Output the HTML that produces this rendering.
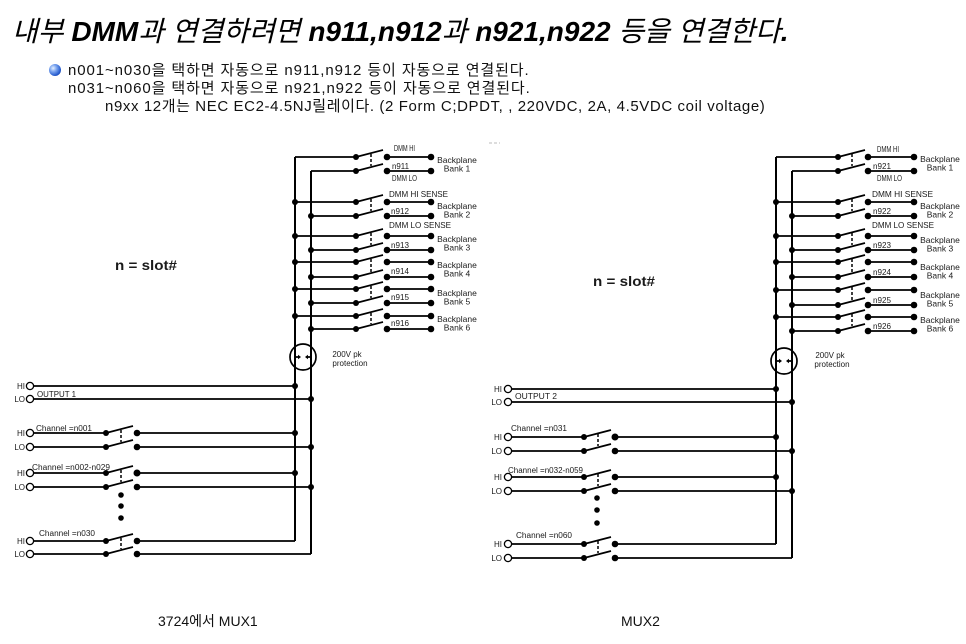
<!DOCTYPE html>
<html><head><meta charset="utf-8">
<style>
html,body{margin:0;padding:0;background:#fff;}
body{width:966px;height:644px;position:relative;overflow:hidden;font-family:"Liberation Sans","Noto Sans CJK KR",sans-serif;color:#000;}
#title{position:absolute;left:12px;top:16px;font-size:28px;line-height:32px;white-space:nowrap;font-style:italic;}
#title b{font-weight:bold;}
#title .k{font-weight:normal;}
.ln{position:absolute;font-size:15px;line-height:18px;white-space:nowrap;letter-spacing:0.6px;color:#111;}
#bullet{position:absolute;left:49px;top:64px;width:12px;height:12px;border-radius:50%;background:radial-gradient(circle at 35% 35%,#e6f0ff 0%,#7fa8f0 30%,#2a5fd0 65%,#0b2d8a 100%);}
.cap{position:absolute;font-size:14px;line-height:16px;white-space:nowrap;color:#111;}
svg{position:absolute;left:0;top:0;}
svg text{font-family:"Liberation Sans",sans-serif;fill:#1a1a1a;}
</style></head>
<body>
<div id="title"><span class="k">내부 </span><b>DMM</b><span class="k">과 연결하려면 </span><b>n911,n912</b><span class="k">과 </span><b>n921,n922</b><span class="k"> 등을 연결한다</span><b>.</b></div>
<div id="bullet"></div>
<div class="ln" style="left:68px;top:62px;letter-spacing:0.9px;">n001~n030을 택하면 자동으로 n911,n912 등이 자동으로 연결된다.</div>
<div class="ln" style="left:68px;top:80px;letter-spacing:0.9px;">n031~n060을 택하면 자동으로 n921,n922 등이 자동으로 연결된다.</div>
<div class="ln" style="left:105px;top:98px;letter-spacing:0.6px;">n9xx 12개는 NEC EC2-4.5NJ릴레이다. (2 Form C;DPDT, , 220VDC, 2A, 4.5VDC coil voltage)</div>

<svg width="966" height="644" viewBox="0 0 966 644">
<line x1="489" y1="143" x2="500" y2="143" stroke="#bbb" stroke-width="1" stroke-dasharray="3,2"/>

<g stroke="#000" fill="none" stroke-linecap="butt">
<path d="M295 157V541 M311 171V554" stroke-width="2"/>
<path stroke-width="1.7" d="
M295 157H356 M311 171H356 M387 157H431 M387 171H431 M356 157L383 150 M356 171L383 164
M295 202H356 M311 216H356 M387 202H431 M387 216H431 M356 202L383 195 M356 216L383 209
M295 236H356 M311 250H356 M387 236H431 M387 250H431 M356 236L383 229 M356 250L383 243
M295 262H356 M311 277H356 M387 262H431 M387 277H431 M356 262L383 255 M356 277L383 270
M295 289H356 M311 303H356 M387 289H431 M387 303H431 M356 289L383 282 M356 303L383 296
M295 316H356 M311 329H356 M387 316H431 M387 329H431 M356 316L383 309 M356 329L383 322
M34 386H295 M34 399H311
M34 433H106 M34 447H106 M137 433H295 M137 447H311 M106 433L133 426 M106 447L133 440
M34 473H106 M34 487H106 M137 473H295 M137 487H311 M106 473L133 466 M106 487L133 480
M34 541H106 M34 554H106 M137 541H295 M137 554H311 M106 541L133 534 M106 554L133 547
M295 357H299 M311 357H307
"/>
<path stroke-width="1.5" stroke-dasharray="3,2" d="M371 154V166 M371 199V211 M371 233V245 M371 259V272 M371 286V298 M371 313V324 M121 430V442 M121 470V482 M121 538V549"/>
<circle cx="303" cy="357" r="13" stroke-width="1.7"/>

<path d="M776 157V544 M792 171V558" stroke-width="2"/>
<path stroke-width="1.7" d="
M776 157H838 M792 171H838 M868 157H914 M868 171H914 M838 157L865 150 M838 171L865 164
M776 202H838 M792 216H838 M868 202H914 M868 216H914 M838 202L865 195 M838 216L865 209
M776 236H838 M792 250H838 M868 236H914 M868 250H914 M838 236L865 229 M838 250L865 243
M776 262H838 M792 277H838 M868 262H914 M868 277H914 M838 262L865 255 M838 277L865 270
M776 290H838 M792 305H838 M868 290H914 M868 305H914 M838 290L865 283 M838 305L865 298
M776 317H838 M792 331H838 M868 317H914 M868 331H914 M838 317L865 310 M838 331L865 324
M512 389H776 M512 402H792
M512 437H584 M512 451H584 M615 437H776 M615 451H792 M584 437L611 430 M584 451L611 444
M512 477H584 M512 491H584 M615 477H776 M615 491H792 M584 477L611 470 M584 491L611 484
M512 544H584 M512 558H584 M615 544H776 M615 558H792 M584 544L611 537 M584 558L611 551
M776 361H780 M792 361H788
"/>
<path stroke-width="1.5" stroke-dasharray="3,2" d="M852 154V166 M852 199V211 M852 233V245 M852 259V272 M852 287V300 M852 314V326 M598 434V446 M598 474V486 M598 541V553"/>
<circle cx="784" cy="361" r="13" stroke-width="1.7"/>

<g stroke-width="1.3" fill="#fff">
<circle cx="30" cy="386" r="3.6"/><circle cx="30" cy="399" r="3.6"/>
<circle cx="30" cy="433" r="3.6"/><circle cx="30" cy="447" r="3.6"/>
<circle cx="30" cy="473" r="3.6"/><circle cx="30" cy="487" r="3.6"/>
<circle cx="30" cy="541" r="3.6"/><circle cx="30" cy="554" r="3.6"/>
<circle cx="508" cy="389" r="3.6"/><circle cx="508" cy="402" r="3.6"/>
<circle cx="508" cy="437" r="3.6"/><circle cx="508" cy="451" r="3.6"/>
<circle cx="508" cy="477" r="3.6"/><circle cx="508" cy="491" r="3.6"/>
<circle cx="508" cy="544" r="3.6"/><circle cx="508" cy="558" r="3.6"/>
</g>
</g>

<g fill="#000">
<polygon points="301,357 298,354.8 298,359.2"/><polygon points="305,357 308,354.8 308,359.2"/>
<polygon points="782,361 779,358.8 779,363.2"/><polygon points="786,361 789,358.8 789,363.2"/>
</g>

<g fill="#000">
<circle cx="295" cy="202" r="3"/><circle cx="295" cy="236" r="3"/><circle cx="295" cy="262" r="3"/><circle cx="295" cy="289" r="3"/><circle cx="295" cy="316" r="3"/><circle cx="295" cy="386" r="3"/><circle cx="295" cy="433" r="3"/><circle cx="295" cy="473" r="3"/>
<circle cx="311" cy="216" r="3"/><circle cx="311" cy="250" r="3"/><circle cx="311" cy="277" r="3"/><circle cx="311" cy="303" r="3"/><circle cx="311" cy="329" r="3"/><circle cx="311" cy="399" r="3"/><circle cx="311" cy="447" r="3"/><circle cx="311" cy="487" r="3"/>
<circle cx="356" cy="157" r="3"/><circle cx="387" cy="157" r="3.3"/><circle cx="431" cy="157" r="3.3"/>
<circle cx="356" cy="171" r="3"/><circle cx="387" cy="171" r="3.3"/><circle cx="431" cy="171" r="3.3"/>
<circle cx="356" cy="202" r="3"/><circle cx="387" cy="202" r="3.3"/><circle cx="431" cy="202" r="3.3"/>
<circle cx="356" cy="216" r="3"/><circle cx="387" cy="216" r="3.3"/><circle cx="431" cy="216" r="3.3"/>
<circle cx="356" cy="236" r="3"/><circle cx="387" cy="236" r="3.3"/><circle cx="431" cy="236" r="3.3"/>
<circle cx="356" cy="250" r="3"/><circle cx="387" cy="250" r="3.3"/><circle cx="431" cy="250" r="3.3"/>
<circle cx="356" cy="262" r="3"/><circle cx="387" cy="262" r="3.3"/><circle cx="431" cy="262" r="3.3"/>
<circle cx="356" cy="277" r="3"/><circle cx="387" cy="277" r="3.3"/><circle cx="431" cy="277" r="3.3"/>
<circle cx="356" cy="289" r="3"/><circle cx="387" cy="289" r="3.3"/><circle cx="431" cy="289" r="3.3"/>
<circle cx="356" cy="303" r="3"/><circle cx="387" cy="303" r="3.3"/><circle cx="431" cy="303" r="3.3"/>
<circle cx="356" cy="316" r="3"/><circle cx="387" cy="316" r="3.3"/><circle cx="431" cy="316" r="3.3"/>
<circle cx="356" cy="329" r="3"/><circle cx="387" cy="329" r="3.3"/><circle cx="431" cy="329" r="3.3"/>
<circle cx="106" cy="433" r="3"/><circle cx="137" cy="433" r="3.3"/>
<circle cx="106" cy="447" r="3"/><circle cx="137" cy="447" r="3.3"/>
<circle cx="106" cy="473" r="3"/><circle cx="137" cy="473" r="3.5"/>
<circle cx="106" cy="487" r="3"/><circle cx="137" cy="487" r="3.3"/>
<circle cx="106" cy="541" r="3"/><circle cx="137" cy="541" r="3.3"/>
<circle cx="106" cy="554" r="3"/><circle cx="137" cy="554" r="3.3"/>
<circle cx="121" cy="495" r="2.8"/><circle cx="121" cy="506" r="2.8"/><circle cx="121" cy="518" r="2.8"/>

<circle cx="776" cy="202" r="3"/><circle cx="776" cy="236" r="3"/><circle cx="776" cy="262" r="3"/><circle cx="776" cy="290" r="3"/><circle cx="776" cy="317" r="3"/><circle cx="776" cy="389" r="3"/><circle cx="776" cy="437" r="3"/><circle cx="776" cy="477" r="3"/>
<circle cx="792" cy="216" r="3"/><circle cx="792" cy="250" r="3"/><circle cx="792" cy="277" r="3"/><circle cx="792" cy="305" r="3"/><circle cx="792" cy="331" r="3"/><circle cx="792" cy="402" r="3"/><circle cx="792" cy="451" r="3"/><circle cx="792" cy="491" r="3"/>
<circle cx="838" cy="157" r="3"/><circle cx="868" cy="157" r="3.3"/><circle cx="914" cy="157" r="3.3"/>
<circle cx="838" cy="171" r="3"/><circle cx="868" cy="171" r="3.3"/><circle cx="914" cy="171" r="3.3"/>
<circle cx="838" cy="202" r="3"/><circle cx="868" cy="202" r="3.3"/><circle cx="914" cy="202" r="3.3"/>
<circle cx="838" cy="216" r="3"/><circle cx="868" cy="216" r="3.3"/><circle cx="914" cy="216" r="3.3"/>
<circle cx="838" cy="236" r="3"/><circle cx="868" cy="236" r="3.3"/><circle cx="914" cy="236" r="3.3"/>
<circle cx="838" cy="250" r="3"/><circle cx="868" cy="250" r="3.3"/><circle cx="914" cy="250" r="3.3"/>
<circle cx="838" cy="262" r="3"/><circle cx="868" cy="262" r="3.3"/><circle cx="914" cy="262" r="3.3"/>
<circle cx="838" cy="277" r="3"/><circle cx="868" cy="277" r="3.3"/><circle cx="914" cy="277" r="3.3"/>
<circle cx="838" cy="290" r="3"/><circle cx="868" cy="290" r="3.3"/><circle cx="914" cy="290" r="3.3"/>
<circle cx="838" cy="305" r="3"/><circle cx="868" cy="305" r="3.3"/><circle cx="914" cy="305" r="3.3"/>
<circle cx="838" cy="317" r="3"/><circle cx="868" cy="317" r="3.3"/><circle cx="914" cy="317" r="3.3"/>
<circle cx="838" cy="331" r="3"/><circle cx="868" cy="331" r="3.3"/><circle cx="914" cy="331" r="3.3"/>
<circle cx="584" cy="437" r="3"/><circle cx="615" cy="437" r="3.5"/>
<circle cx="584" cy="451" r="3"/><circle cx="615" cy="451" r="3.3"/>
<circle cx="584" cy="477" r="3"/><circle cx="615" cy="477" r="3.3"/>
<circle cx="584" cy="491" r="3"/><circle cx="615" cy="491" r="3.3"/>
<circle cx="584" cy="544" r="3"/><circle cx="615" cy="544" r="3.3"/>
<circle cx="584" cy="558" r="3"/><circle cx="615" cy="558" r="3.3"/>
<circle cx="597" cy="498" r="2.8"/><circle cx="597" cy="510" r="2.8"/><circle cx="597" cy="523" r="2.8"/>
</g>

<g font-size="8.5">
<text x="394" y="151" textLength="21" lengthAdjust="spacingAndGlyphs">DMM HI</text>
<text x="392" y="169" textLength="17" lengthAdjust="spacingAndGlyphs">n911</text>
<text x="392" y="181" textLength="25" lengthAdjust="spacingAndGlyphs">DMM LO</text>
<text x="389" y="197" textLength="59" lengthAdjust="spacingAndGlyphs">DMM HI SENSE</text>
<text x="391" y="214" textLength="18" lengthAdjust="spacingAndGlyphs">n912</text>
<text x="389" y="228" textLength="62" lengthAdjust="spacingAndGlyphs">DMM LO SENSE</text>
<text x="391" y="248" textLength="18" lengthAdjust="spacingAndGlyphs">n913</text>
<text x="391" y="274" textLength="18" lengthAdjust="spacingAndGlyphs">n914</text>
<text x="391" y="300" textLength="18" lengthAdjust="spacingAndGlyphs">n915</text>
<text x="391" y="326" textLength="18" lengthAdjust="spacingAndGlyphs">n916</text>
</g>
<g font-size="8.5" text-anchor="middle">
<text x="457" y="163">Backplane</text><text x="457" y="171.5">Bank 1</text>
<text x="457" y="209">Backplane</text><text x="457" y="217.5">Bank 2</text>
<text x="457" y="242">Backplane</text><text x="457" y="250.5">Bank 3</text>
<text x="457" y="268">Backplane</text><text x="457" y="276.5">Bank 4</text>
<text x="457" y="296">Backplane</text><text x="457" y="304.5">Bank 5</text>
<text x="457" y="322">Backplane</text><text x="457" y="330.5">Bank 6</text>
<text x="347" y="357" font-size="8">200V pk</text>
<text x="350" y="366" font-size="8">protection</text>
</g>
<g font-size="8">
<text x="37" y="397" textLength="39" lengthAdjust="spacingAndGlyphs">OUTPUT 1</text>
<text x="36" y="431" textLength="56" lengthAdjust="spacingAndGlyphs">Channel =n001</text>
<text x="32" y="470" textLength="78" lengthAdjust="spacingAndGlyphs">Channel =n002-n029</text>
<text x="39" y="536" textLength="56" lengthAdjust="spacingAndGlyphs">Channel =n030</text>
</g>
<g font-size="8" text-anchor="end">
<text x="25" y="389">HI</text><text x="25" y="402">LO</text>
<text x="25" y="436">HI</text><text x="25" y="450">LO</text>
<text x="25" y="476">HI</text><text x="25" y="490">LO</text>
<text x="25" y="544">HI</text><text x="25" y="557">LO</text>
<text x="502" y="392">HI</text><text x="502" y="405">LO</text>
<text x="502" y="440">HI</text><text x="502" y="454">LO</text>
<text x="502" y="480">HI</text><text x="502" y="494">LO</text>
<text x="502" y="547">HI</text><text x="502" y="561">LO</text>
</g>
<text x="115" y="270" font-size="14" font-weight="bold" textLength="62" lengthAdjust="spacingAndGlyphs">n = slot#</text>
<text x="593" y="286" font-size="14" font-weight="bold" textLength="62" lengthAdjust="spacingAndGlyphs">n = slot#</text>

<g font-size="8.5">
<text x="877" y="152" textLength="22" lengthAdjust="spacingAndGlyphs">DMM HI</text>
<text x="873" y="169" textLength="18" lengthAdjust="spacingAndGlyphs">n921</text>
<text x="877" y="181" textLength="25" lengthAdjust="spacingAndGlyphs">DMM LO</text>
<text x="872" y="197" textLength="61" lengthAdjust="spacingAndGlyphs">DMM HI SENSE</text>
<text x="873" y="214" textLength="18" lengthAdjust="spacingAndGlyphs">n922</text>
<text x="872" y="228" textLength="62" lengthAdjust="spacingAndGlyphs">DMM LO SENSE</text>
<text x="873" y="248" textLength="18" lengthAdjust="spacingAndGlyphs">n923</text>
<text x="873" y="275" textLength="18" lengthAdjust="spacingAndGlyphs">n924</text>
<text x="873" y="303" textLength="18" lengthAdjust="spacingAndGlyphs">n925</text>
<text x="873" y="329" textLength="18" lengthAdjust="spacingAndGlyphs">n926</text>
</g>
<g font-size="8.5" text-anchor="middle">
<text x="940" y="162">Backplane</text><text x="940" y="170.5">Bank 1</text>
<text x="940" y="209">Backplane</text><text x="940" y="217.5">Bank 2</text>
<text x="940" y="243">Backplane</text><text x="940" y="251.5">Bank 3</text>
<text x="940" y="270">Backplane</text><text x="940" y="278.5">Bank 4</text>
<text x="940" y="298">Backplane</text><text x="940" y="306.5">Bank 5</text>
<text x="940" y="323">Backplane</text><text x="940" y="331.5">Bank 6</text>
<text x="830" y="358" font-size="8">200V pk</text>
<text x="832" y="367" font-size="8">protection</text>
</g>
<g font-size="8">
<text x="515" y="399" textLength="42" lengthAdjust="spacingAndGlyphs">OUTPUT 2</text>
<text x="511" y="431" textLength="56" lengthAdjust="spacingAndGlyphs">Channel =n031</text>
<text x="508" y="473" textLength="75" lengthAdjust="spacingAndGlyphs">Channel =n032-n059</text>
<text x="516" y="538" textLength="56" lengthAdjust="spacingAndGlyphs">Channel =n060</text>
</g>
</svg>

<div class="cap" style="left:158px;top:613px;">3724에서 MUX1</div>
<div class="cap" style="left:621px;top:613px;">MUX2</div>
</body></html>
